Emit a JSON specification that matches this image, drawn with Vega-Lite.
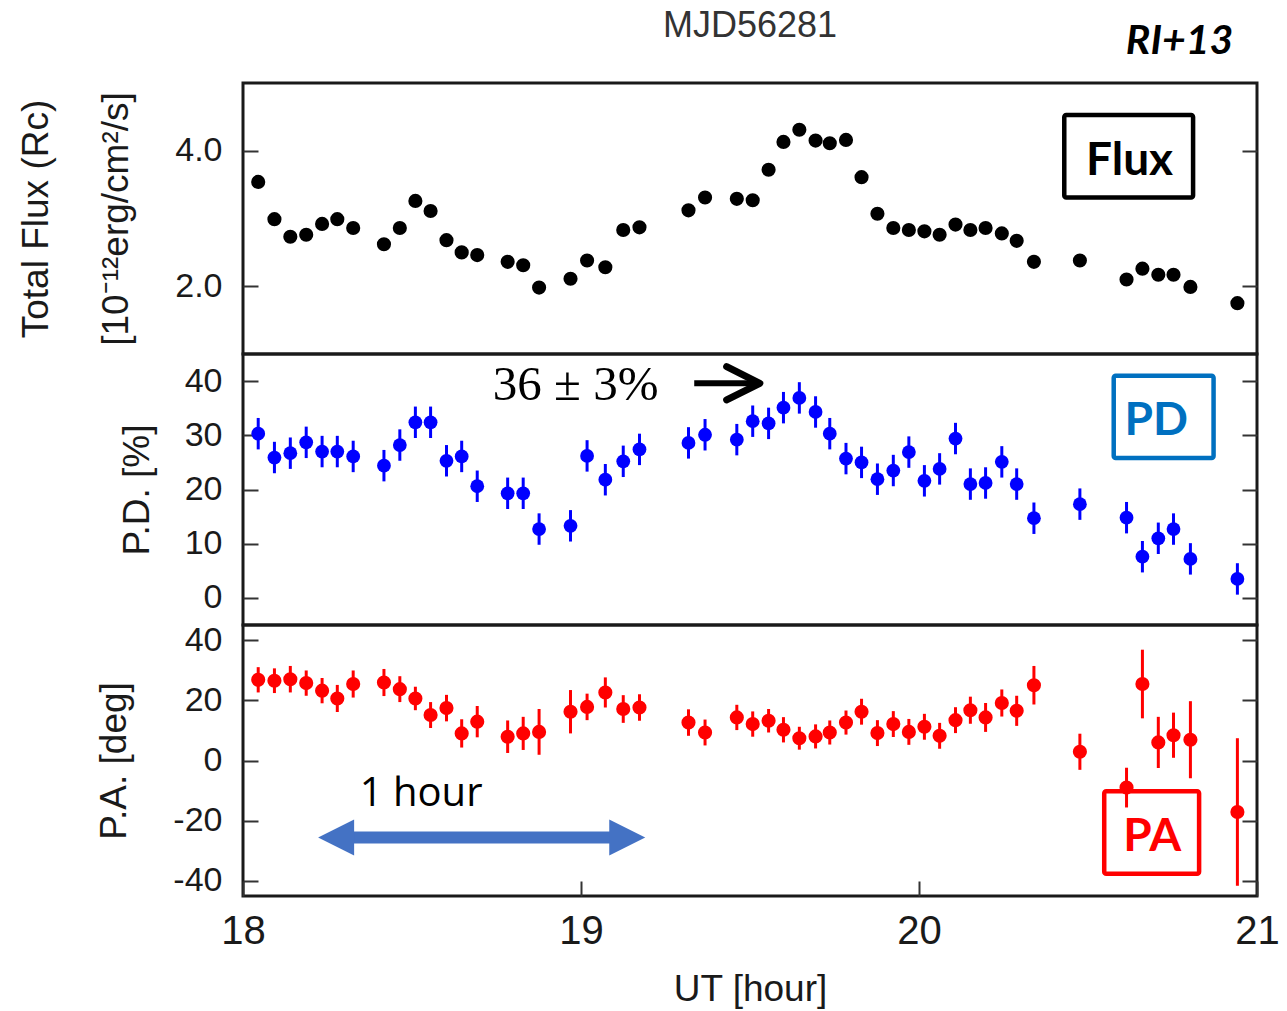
{
  "$schema": "https://vega.github.io/schema/vega-lite/v6.json",
  "padding": {"left": 15, "top": 6, "right": 5, "bottom": 0},
  "background": "white",
  "bounds": "flush",
  "spacing": 0,
  "config": {
    "view": {"stroke": "#1a1a1a", "strokeWidth": 3},
    "axis": {"domain": false, "grid": false, "labelFont": "Liberation Sans", "titleFont": "Liberation Sans", "labelColor": "#1a1a1a", "titleColor": "#1a1a1a", "tickColor": "#333333", "tickWidth": 2, "tickSize": -15, "titleFontWeight": "normal"}
  },
  "datasets": {
    "obs": [
      {"t":18.045,"flux":3.54,"pd":30.3,"pde":2.9,"pa":26.8,"pae":4.2},
      {"t":18.093,"flux":2.99,"pd":25.9,"pde":2.9,"pa":26.5,"pae":4.1},
      {"t":18.140,"flux":2.73,"pd":26.7,"pde":2.9,"pa":27.0,"pae":4.4},
      {"t":18.187,"flux":2.76,"pd":28.7,"pde":2.9,"pa":25.7,"pae":4.2},
      {"t":18.234,"flux":2.92,"pd":27.0,"pde":2.9,"pa":23.2,"pae":4.2},
      {"t":18.279,"flux":2.99,"pd":27.0,"pde":2.9,"pa":20.6,"pae":4.5},
      {"t":18.326,"flux":2.86,"pd":26.1,"pde":2.9,"pa":25.4,"pae":4.5},
      {"t":18.417,"flux":2.62,"pd":24.4,"pde":2.9,"pa":25.9,"pae":4.5},
      {"t":18.464,"flux":2.86,"pd":28.2,"pde":2.9,"pa":23.7,"pae":4.3},
      {"t":18.510,"flux":3.26,"pd":32.4,"pde":2.9,"pa":20.6,"pae":3.9},
      {"t":18.555,"flux":3.11,"pd":32.4,"pde":2.9,"pa":15.1,"pae":4.3},
      {"t":18.602,"flux":2.68,"pd":25.3,"pde":2.9,"pa":17.4,"pae":4.4},
      {"t":18.647,"flux":2.50,"pd":26.1,"pde":2.9,"pa":9.0,"pae":4.7},
      {"t":18.693,"flux":2.46,"pd":20.6,"pde":2.9,"pa":12.9,"pae":5.2},
      {"t":18.783,"flux":2.36,"pd":19.3,"pde":2.9,"pa":7.9,"pae":5.4},
      {"t":18.829,"flux":2.31,"pd":19.3,"pde":2.9,"pa":9.0,"pae":5.5},
      {"t":18.876,"flux":1.98,"pd":12.7,"pde":2.9,"pa":9.5,"pae":7.6},
      {"t":18.969,"flux":2.11,"pd":13.3,"pde":2.9,"pa":16.2,"pae":7.2},
      {"t":19.018,"flux":2.38,"pd":26.2,"pde":2.9,"pa":17.8,"pae":4.4},
      {"t":19.072,"flux":2.28,"pd":21.8,"pde":2.9,"pa":22.6,"pae":5.0},
      {"t":19.125,"flux":2.83,"pd":25.2,"pde":2.9,"pa":17.1,"pae":4.6},
      {"t":19.173,"flux":2.87,"pd":27.4,"pde":2.9,"pa":17.6,"pae":4.4},
      {"t":19.318,"flux":3.12,"pd":28.6,"pde":2.9,"pa":12.6,"pae":4.4},
      {"t":19.367,"flux":3.31,"pd":30.1,"pde":2.9,"pa":9.3,"pae":4.3},
      {"t":19.461,"flux":3.29,"pd":29.2,"pde":2.9,"pa":14.3,"pae":4.2},
      {"t":19.508,"flux":3.27,"pd":32.6,"pde":2.9,"pa":12.1,"pae":4.2},
      {"t":19.555,"flux":3.72,"pd":32.2,"pde":2.9,"pa":13.2,"pae":3.9},
      {"t":19.599,"flux":4.13,"pd":35.1,"pde":2.9,"pa":10.2,"pae":4.2},
      {"t":19.646,"flux":4.31,"pd":36.9,"pde":2.9,"pa":7.4,"pae":3.8},
      {"t":19.694,"flux":4.15,"pd":34.3,"pde":2.9,"pa":8.0,"pae":4.0},
      {"t":19.736,"flux":4.11,"pd":30.3,"pde":2.9,"pa":9.3,"pae":4.0},
      {"t":19.784,"flux":4.16,"pd":25.7,"pde":2.9,"pa":12.6,"pae":4.0},
      {"t":19.830,"flux":3.61,"pd":25.0,"pde":2.9,"pa":16.2,"pae":4.3},
      {"t":19.877,"flux":3.07,"pd":21.9,"pde":2.9,"pa":9.1,"pae":4.3},
      {"t":19.924,"flux":2.86,"pd":23.5,"pde":2.9,"pa":12.1,"pae":4.3},
      {"t":19.970,"flux":2.83,"pd":26.9,"pde":2.9,"pa":9.5,"pae":4.3},
      {"t":20.016,"flux":2.81,"pd":21.6,"pde":2.9,"pa":11.2,"pae":4.3},
      {"t":20.061,"flux":2.76,"pd":23.8,"pde":2.9,"pa":8.2,"pae":4.3},
      {"t":20.108,"flux":2.91,"pd":29.4,"pde":2.9,"pa":13.4,"pae":4.3},
      {"t":20.152,"flux":2.83,"pd":21.0,"pde":2.9,"pa":16.7,"pae":4.5},
      {"t":20.197,"flux":2.86,"pd":21.2,"pde":2.9,"pa":14.3,"pae":4.8},
      {"t":20.245,"flux":2.78,"pd":25.1,"pde":2.9,"pa":19.1,"pae":4.5},
      {"t":20.289,"flux":2.67,"pd":21.0,"pde":2.9,"pa":16.5,"pae":5.0},
      {"t":20.340,"flux":2.36,"pd":14.7,"pde":2.9,"pa":25.0,"pae":6.4},
      {"t":20.476,"flux":2.38,"pd":17.3,"pde":2.9,"pa":2.9,"pae":6.0},
      {"t":20.614,"flux":2.10,"pd":14.8,"pde":2.9,"pa":-9.0,"pae":6.6},
      {"t":20.661,"flux":2.26,"pd":7.6,"pde":2.9,"pa":25.4,"pae":11.4},
      {"t":20.708,"flux":2.17,"pd":11.0,"pde":2.9,"pa":6.0,"pae":8.5},
      {"t":20.753,"flux":2.17,"pd":12.7,"pde":2.9,"pa":8.4,"pae":7.5},
      {"t":20.803,"flux":1.99,"pd":7.2,"pde":2.9,"pa":6.9,"pae":12.8},
      {"t":20.942,"flux":1.75,"pd":3.5,"pde":2.9,"pa":-17.1,"pae":24.5}
    ]
  },
  "vconcat": [
    {
      "width": 1014,
      "height": 271,
      "encoding": {"x": {"field": "t", "type": "quantitative", "scale": {"domain": [18, 21], "nice": false, "zero": false}, "axis": null}},
      "resolve": {"axis": {"y": "independent"}},
      "layer": [
        {
          "data": {"name": "obs"},
          "mark": {"type": "circle", "size": 200, "color": "#000000", "opacity": 1},
          "encoding": {"y": {"field": "flux", "type": "quantitative", "scale": {"domain": [1, 5], "nice": false, "zero": false},
            "axis": {"orient": "left", "values": [2, 4], "format": ".1f", "labelFontSize": 34, "labelPadding": 36,
              "title": ["Total Flux (Rc)", "[10⁻¹²erg/cm²/s]"], "titleFontSize": 37, "titleLineHeight": 80,
              "titleX": -207, "titleY": 135.5, "titleAngle": -90, "titleBaseline": "middle", "titleAlign": "center"}}}
        },
        {
          "data": {"values": [{"t": 20.4298, "t2": 20.8109, "v": 4.526, "v2": 3.311}]},
          "mark": {"type": "rect", "fillOpacity": 0, "stroke": "#000000", "strokeWidth": 4.5, "cornerRadius": 2},
          "encoding": {"x2": {"field": "t2"},
            "y": {"field": "v", "type": "quantitative", "scale": {"domain": [1, 5], "nice": false, "zero": false},
              "axis": {"orient": "right", "values": [2, 4], "labels": false, "title": null}},
            "y2": {"field": "v2"}}
        },
        {
          "data": {"values": [{"t": 20.623, "v": 3.644, "label": "Flux"}]},
          "mark": {"type": "text", "font": "Lato", "fontWeight": "bold", "fontSize": 46, "align": "center", "baseline": "alphabetic", "color": "#000000"},
          "encoding": {"y": {"field": "v", "type": "quantitative", "scale": {"domain": [1, 5], "nice": false, "zero": false}, "axis": null}, "text": {"field": "label"}}
        },
        {
          "data": {"values": [{"t": 19.5, "v": 5.674, "label": "MJD56281"}]},
          "mark": {"type": "text", "font": "Liberation Sans", "fontSize": 36, "align": "center", "baseline": "alphabetic", "color": "#333333"},
          "encoding": {"y": {"field": "v", "type": "quantitative", "scale": {"domain": [1, 5], "nice": false, "zero": false}, "axis": null}, "text": {"field": "label"}}
        },
        {
          "data": {"values": [{"t": 20.771, "v": 5.422, "label": "RI+13"}]},
          "mark": {"type": "text", "font": "Lato", "fontWeight": "bold", "fontStyle": "italic", "fontSize": 41, "align": "center", "baseline": "alphabetic", "color": "#000000"},
          "encoding": {"y": {"field": "v", "type": "quantitative", "scale": {"domain": [1, 5], "nice": false, "zero": false}, "axis": null}, "text": {"field": "label"}}
        }
      ]
    },
    {
      "width": 1014,
      "height": 271,
      "encoding": {"x": {"field": "t", "type": "quantitative", "scale": {"domain": [18, 21], "nice": false, "zero": false}, "axis": null}},
      "resolve": {"axis": {"y": "independent"}},
      "layer": [
        {
          "data": {"name": "obs"},
          "mark": {"type": "circle", "size": 190, "color": "#0000ff", "opacity": 1},
          "encoding": {"y": {"field": "pd", "type": "quantitative", "scale": {"domain": [-5, 45], "nice": false, "zero": false},
            "axis": {"orient": "left", "values": [0, 10, 20, 30, 40], "labelFontSize": 34, "labelPadding": 36,
              "title": "P.D. [%]", "titleFontSize": 37, "titleX": -106, "titleY": 135.5, "titleAngle": -90, "titleBaseline": "middle", "titleAlign": "center"}}}
        },
        {
          "data": {"name": "obs"},
          "mark": {"type": "errorbar", "color": "#0000ff", "thickness": 3},
          "encoding": {"y": {"field": "pd", "type": "quantitative", "scale": {"domain": [-5, 45], "nice": false, "zero": false}, "axis": null}, "yError": {"field": "pde"}}
        },
        {
          "data": {"values": [{"t": 20.5761, "t2": 20.8715, "v": 41.0, "v2": 25.81}]},
          "mark": {"type": "rect", "fillOpacity": 0, "stroke": "#0070c0", "strokeWidth": 4.5, "cornerRadius": 2},
          "encoding": {"x2": {"field": "t2"},
            "y": {"field": "v", "type": "quantitative", "scale": {"domain": [-5, 45], "nice": false, "zero": false},
              "axis": {"orient": "right", "values": [0, 10, 20, 30, 40], "labels": false, "title": null}},
            "y2": {"field": "v2"}}
        },
        {
          "data": {"values": [{"t": 20.7016, "v": 30.13, "label": "PD"}]},
          "mark": {"type": "text", "font": "Lato", "fontWeight": "bold", "fontSize": 46, "align": "center", "baseline": "alphabetic", "color": "#0070c0"},
          "encoding": {"y": {"field": "v", "type": "quantitative", "scale": {"domain": [-5, 45], "nice": false, "zero": false}, "axis": null}, "text": {"field": "label"}}
        },
        {
          "data": {"values": [{"t": 18.984, "v": 36.48, "label": "36 ± 3%"}]},
          "mark": {"type": "text", "font": "Liberation Serif", "fontSize": 49, "align": "center", "baseline": "alphabetic", "color": "#000000"},
          "encoding": {"y": {"field": "v", "type": "quantitative", "scale": {"domain": [-5, 45], "nice": false, "zero": false}, "axis": null}, "text": {"field": "label"}}
        },
        {
          "data": {"values": [{"t": 19.335, "t2": 19.52, "v": 39.6}]},
          "mark": {"type": "rule", "color": "#000000", "strokeWidth": 6},
          "encoding": {"x2": {"field": "t2"}, "y": {"field": "v", "type": "quantitative", "scale": {"domain": [-5, 45], "nice": false, "zero": false}, "axis": null}}
        },
        {
          "data": {"values": [{"t": 19.48, "v": 39.6}]},
          "mark": {"type": "point", "shape": "M-1,-1L1,0L-1,1", "size": 1100, "filled": false, "stroke": "#000000", "strokeWidth": 7, "strokeJoin": "round", "strokeCap": "round", "opacity": 1},
          "encoding": {"y": {"field": "v", "type": "quantitative", "scale": {"domain": [-5, 45], "nice": false, "zero": false}, "axis": null}}
        }
      ]
    },
    {
      "width": 1014,
      "height": 271,
      "encoding": {"x": {"field": "t", "type": "quantitative", "scale": {"domain": [18, 21], "nice": false, "zero": false},
        "axis": {"orient": "bottom", "values": [18, 19, 20, 21], "labelFontSize": 40, "labelPadding": 30, "labelFlush": false,
          "title": "UT [hour]", "titleFontSize": 37, "titleY": 104, "titleBaseline": "alphabetic"}}},
      "resolve": {"axis": {"y": "independent"}},
      "layer": [
        {
          "data": {"name": "obs"},
          "mark": {"type": "circle", "size": 200, "color": "#ff0000", "opacity": 1},
          "encoding": {"y": {"field": "pa", "type": "quantitative", "scale": {"domain": [-45, 45], "nice": false, "zero": false},
            "axis": {"orient": "left", "values": [-40, -20, 0, 20, 40], "labelExpr": "'' + datum.value", "labelFontSize": 34, "labelPadding": 36,
              "title": "P.A. [deg]", "titleFontSize": 37, "titleX": -129, "titleY": 135.5, "titleAngle": -90, "titleBaseline": "middle", "titleAlign": "center"}}}
        },
        {
          "data": {"name": "obs"},
          "mark": {"type": "errorbar", "color": "#ff0000", "thickness": 3},
          "encoding": {"y": {"field": "pa", "type": "quantitative", "scale": {"domain": [-45, 45], "nice": false, "zero": false}, "axis": null}, "yError": {"field": "pae"}}
        },
        {
          "data": {"values": [{"t": 20.548, "t2": 20.8287, "v": -10.25, "v2": -37.6}]},
          "mark": {"type": "rect", "fillOpacity": 0, "stroke": "#ff0000", "strokeWidth": 4.5, "cornerRadius": 2},
          "encoding": {"x2": {"field": "t2"},
            "y": {"field": "v", "type": "quantitative", "scale": {"domain": [-45, 45], "nice": false, "zero": false},
              "axis": {"orient": "right", "values": [-40, -20, 0, 20, 40], "labels": false, "title": null}},
            "y2": {"field": "v2"}}
        },
        {
          "data": {"values": [{"t": 20.69, "v": -30.0, "label": "PA"}]},
          "mark": {"type": "text", "font": "Lato", "fontWeight": "bold", "fontSize": 46, "align": "center", "baseline": "alphabetic", "color": "#ff0000"},
          "encoding": {"y": {"field": "v", "type": "quantitative", "scale": {"domain": [-45, 45], "nice": false, "zero": false}, "axis": null}, "text": {"field": "label"}}
        },
        {
          "data": {"values": [{"t": 18.527, "v": -15.07, "label": "1 hour"}]},
          "mark": {"type": "text", "font": "Open Sans", "fontSize": 40, "align": "center", "baseline": "alphabetic", "color": "#000000"},
          "encoding": {"y": {"field": "v", "type": "quantitative", "scale": {"domain": [-45, 45], "nice": false, "zero": false}, "axis": null}, "text": {"field": "label"}}
        },
        {
          "data": {"values": [{"t": 18.2756, "t2": 19.1368, "v": -25.6}]},
          "mark": {"type": "rule", "color": "#4472c4", "strokeWidth": 12},
          "encoding": {"x2": {"field": "t2"}, "y": {"field": "v", "type": "quantitative", "scale": {"domain": [-45, 45], "nice": false, "zero": false}, "axis": null}}
        },
        {
          "data": {"values": [{"t": 18.2756, "v": -25.6}]},
          "mark": {"type": "point", "shape": "M-1,0L1,-1L1,1Z", "size": 1296, "filled": true, "color": "#4472c4", "opacity": 1},
          "encoding": {"y": {"field": "v", "type": "quantitative", "scale": {"domain": [-45, 45], "nice": false, "zero": false}, "axis": null}}
        },
        {
          "data": {"values": [{"t": 19.1368, "v": -25.6}]},
          "mark": {"type": "point", "shape": "M1,0L-1,-1L-1,1Z", "size": 1296, "filled": true, "color": "#4472c4", "opacity": 1},
          "encoding": {"y": {"field": "v", "type": "quantitative", "scale": {"domain": [-45, 45], "nice": false, "zero": false}, "axis": null}}
        }
      ]
    }
  ]
}
